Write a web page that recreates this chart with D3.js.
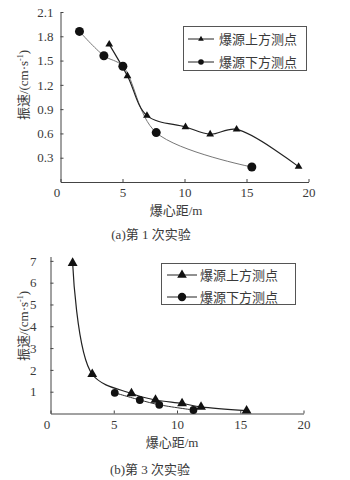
<!DOCTYPE html>
<html>
<head>
<meta charset="utf-8">
<style>
  body { margin: 0; background: #fff; }
  svg text { font-family: "Liberation Serif", "Noto Sans CJK SC", serif; fill: #3a3a3a; }
</style>
</head>
<body>
<svg width="350" height="480"></svg>
<script src="https://d3js.org/d3.v7.min.js"></script>
<script>
// chart (a): first test
const aAboveX = [3.93, 5.4, 6.97, 10.08, 12.07, 14.2, 19.2];
const aAboveY = [1.70, 1.31, 0.82, 0.68, 0.59, 0.65, 0.19];
const aBelowX = [1.53, 3.5, 5.03, 7.72, 15.43];
const aBelowY = [1.86, 1.56, 1.43, 0.61, 0.185];
const aYTicks = [0.3, 0.6, 0.9, 1.2, 1.5, 1.8, 2.1];

// chart (b): third test
const bAboveX = [1.75, 3.3, 6.4, 8.3, 10.4, 11.9, 15.5];
const bAboveY = [6.9, 1.8, 0.92, 0.62, 0.46, 0.3, 0.13];
const bBelowX = [5.08, 7.06, 8.6, 11.3];
const bBelowY = [0.95, 0.62, 0.4, 0.16];
const bYTicks = [1, 2, 3, 4, 5, 6, 7];

const xTicks = [0, 5, 10, 15, 20];
const seriesNames = ["爆源上方测点", "爆源下方测点"];
const serif = "'Liberation Serif', 'Noto Sans CJK SC', serif";

const svg = d3.select("svg");

function drawChart(o) {
    const x = d3.scaleLinear().domain([0, 20]).range([o.left, o.right]);
    const y = d3.scaleLinear().domain([0, o.yMax]).range([o.bottom, o.top]);
    const g = svg.append("g");

    const xAxis = g.append("g")
        .attr("transform", `translate(0,${o.bottom})`)
        .call(d3.axisBottom(x).tickValues(xTicks).tickSizeInner(-3).tickSizeOuter(0).tickPadding(6));
    xAxis.selectAll("text").attr("font-size", 13).attr("font-family", serif).attr("dx", d => d === 0 ? -4 : 0);

    const yAxis = g.append("g")
        .attr("transform", `translate(${o.left},0)`)
        .call(d3.axisLeft(y).tickValues(o.yTicks).tickFormat(o.fmt).tickSizeInner(-3).tickSizeOuter(0).tickPadding(o.yPad));
    yAxis.selectAll("text").attr("font-size", 13).attr("font-family", serif);
    g.selectAll(".domain, .tick line").attr("stroke", "#444");

    const line = d3.line().x(d => x(d[0])).y(d => y(d[1])).curve(d3.curveCatmullRom.alpha(0.5));
    const above = o.aboveX.map((v, i) => [v, o.aboveY[i]]);
    const below = o.belowX.map((v, i) => [v, o.belowY[i]]);

    g.append("path").datum(below).attr("d", line)
        .attr("fill", "none").attr("stroke", o.belowColor).attr("stroke-width", 1);
    g.append("path").datum(above).attr("d", line)
        .attr("fill", "none").attr("stroke", "#222").attr("stroke-width", 1.2);

    g.selectAll(".tri").data(above).enter().append("path")
        .attr("transform", d => `translate(${x(d[0])},${y(d[1])})`)
        .attr("d", d3.symbol(d3.symbolTriangle, o.triSize))
        .attr("fill", "#111");
    g.selectAll(".dot").data(below).enter().append("circle")
        .attr("cx", d => x(d[0])).attr("cy", d => y(d[1]))
        .attr("r", o.dotR).attr("fill", "#111");

    // legend
    const lg = g.append("g");
    lg.append("rect")
        .attr("x", o.legend.x).attr("y", o.legend.y)
        .attr("width", o.legend.w).attr("height", o.legend.h)
        .attr("fill", "#fff").attr("stroke", "#555").attr("stroke-width", 1);
    seriesNames.forEach((name, i) => {
        const ly = o.legend.rows[i];
        lg.append("line")
            .attr("x1", o.legend.x1).attr("x2", o.legend.x2)
            .attr("y1", ly).attr("y2", ly)
            .attr("stroke", "#222").attr("stroke-width", 1);
        const mx = (o.legend.x1 + o.legend.x2) / 2;
        if (i === 0) {
            lg.append("path").attr("transform", `translate(${mx},${ly})`)
                .attr("d", d3.symbol(d3.symbolTriangle, o.legend.triSize)).attr("fill", "#111");
        } else {
            lg.append("circle").attr("cx", mx).attr("cy", ly).attr("r", o.legend.dotR).attr("fill", "#111");
        }
        lg.append("text").attr("x", o.legend.tx).attr("y", ly).attr("dy", "0.36em")
            .attr("font-size", 13).text(name);
    });

    // axis titles and caption
    g.append("text").attr("x", o.xLabel[0]).attr("y", o.xLabel[1])
        .attr("text-anchor", "middle").attr("font-size", 13).text("爆心距/m");
    const yl = g.append("text")
        .attr("transform", `translate(${o.yLabel[0]},${o.yLabel[1]}) rotate(-90)`)
        .attr("text-anchor", "middle").attr("font-size", 13);
    yl.append("tspan").text("振速/(cm·s");
    yl.append("tspan").attr("font-size", 8).attr("dy", -5).text("-1");
    yl.append("tspan").attr("dy", 5).text(")");
    g.append("text").attr("x", o.caption[0]).attr("y", o.caption[1])
        .attr("text-anchor", "middle").attr("font-size", 13).text(o.captionText);
}

drawChart({
    left: 60.5, right: 308.5, top: 12, bottom: 182, yMax: 2.1,
    yTicks: aYTicks, fmt: d3.format(".1f"), yPad: 7,
    aboveX: aAboveX, aboveY: aAboveY, belowX: aBelowX, belowY: aBelowY,
    belowColor: "#777", triSize: 26, dotR: 4.5,
    legend: { x: 183.5, y: 26.5, w: 123, h: 44, rows: [39, 62], x1: 188, x2: 214, tx: 219, triSize: 14, dotR: 2.8 },
    xLabel: [176, 215], yLabel: [28, 85], caption: [151, 239], captionText: "(a)第 1 次实验"
});

drawChart({
    left: 50.5, right: 303.5, top: 256.5, bottom: 413.5, yMax: 7.2,
    yTicks: bYTicks, fmt: d3.format("d"), yPad: 14,
    aboveX: bAboveX, aboveY: bAboveY, belowX: bBelowX, belowY: bBelowY,
    belowColor: "#333", triSize: 42, dotR: 3.9,
    legend: { x: 161.5, y: 263.5, w: 134, h: 41, rows: [275, 297], x1: 167, x2: 197, tx: 200, triSize: 40, dotR: 4.2 },
    xLabel: [172, 447], yLabel: [28, 326], caption: [150, 474], captionText: "(b)第 3 次实验"
});
</script>
</body>
</html>
